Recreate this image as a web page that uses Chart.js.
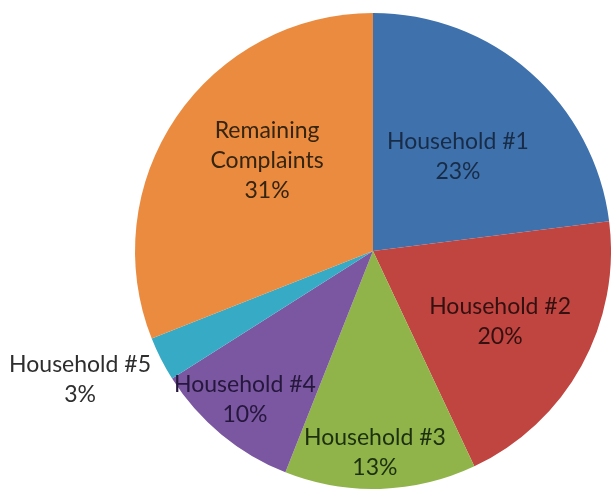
<!DOCTYPE html>
<html lang="en">
<head>
    <meta charset="UTF-8">
    <title>Complaints by Household</title>
    <script src="https://cdn.jsdelivr.net/npm/chart.js"></script>
    <style>
        html, body { margin: 0; padding: 0; background: #fff; }
        #wrap { width: 611px; height: 489px; }
    </style>
</head>
<body>
    <div id="wrap"><canvas id="grafico" width="611" height="489"></canvas></div>

    <script>
        // dados do gráfico
        const categorias = ["Household #1", "Household #2", "Household #3", "Household #4", "Household #5", "Remaining Complaints"];
        const rotulos = [["Household #1"], ["Household #2"], ["Household #3"], ["Household #4"], ["Household #5"], ["Remaining", "Complaints"]];
        const percentuais = [23, 20, 13, 10, 3, 31];

        const cores = ["#3f72ac", "#c0443f", "#90b44a", "#7a57a0", "#37abc6", "#ea8b3f"];
        const coresTexto = ["#182c48", "#331110", "#1c300f", "#26173d", "#2e2e2e", "#35240f"];
        // posição do rótulo relativa ao centro, em frações do raio
        const posRotulo = [[0.357, -0.395], [0.534, 0.298], [0.008, 0.845], [-0.538, 0.626], [-1.231, 0.542], [-0.445, -0.378]];

        const rotulosPlugin = {
            id: "rotulos",
            afterDatasetsDraw(chart) {
                const ctx = chart.ctx;
                const meta = chart.getDatasetMeta(0);
                ctx.save();
                ctx.font = "23px Lato";
                ctx.textAlign = "center";
                ctx.textBaseline = "middle";
                meta.data.forEach((arc, i) => {
                    const r = arc.outerRadius;
                    const linhas = rotulos[i].concat([percentuais[i] + "%"]);
                    const cx = arc.x + posRotulo[i][0] * r;
                    const cy = arc.y + posRotulo[i][1] * r;
                    const alt = 30;
                    ctx.fillStyle = coresTexto[i];
                    linhas.forEach((txt, k) => {
                        ctx.fillText(txt, cx, cy + (k - (linhas.length - 1) / 2) * alt);
                    });
                });
                ctx.restore();
            }
        };

        new Chart(document.getElementById("grafico").getContext("2d"), {
            type: "pie",
            data: {
                labels: categorias,
                datasets: [{
                    data: percentuais,
                    backgroundColor: cores,
                    borderWidth: 0
                }]
            },
            options: {
                responsive: false,
                animation: false,
                layout: { padding: { left: 135, top: 13, right: 0, bottom: 0 } },
                plugins: {
                    legend: { display: false },
                    tooltip: { enabled: false }
                }
            },
            plugins: [rotulosPlugin]
        });
    </script>
</body>
</html>
